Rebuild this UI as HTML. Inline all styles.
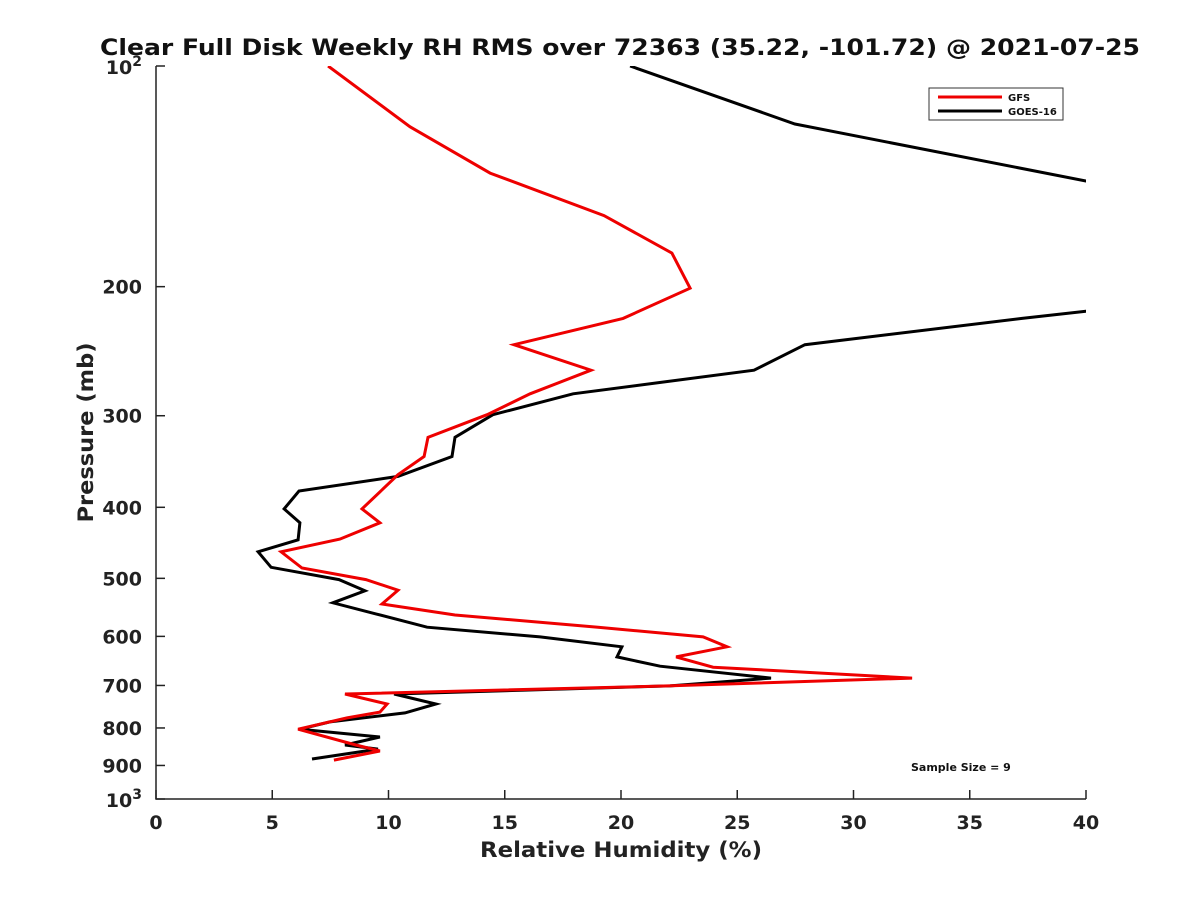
<!DOCTYPE html>
<html><head><meta charset="utf-8"><style>
body{margin:0;background:#fff;}
svg{display:block;font-family:"DejaVu Sans","Liberation Sans",sans-serif;font-weight:bold;}
</style></head><body>
<svg id="c" width="1200" height="900"></svg>
<script>
const xTicks=[0,5,10,15,20,25,30,35,40];
const yTicks=[200,300,400,500,600,700,800,900];
const gfsP=[100,121,140,160,180,201,221,240,260,280,299,321,341,361,402,420,442,460,484,502,519,542,561,583,601,620,640,661,684,701,719,742,761,775,803,844,860,885];
const gfsV=[7.40,10.92,14.37,19.27,22.19,22.97,20.09,15.40,18.71,16.09,14.24,11.70,11.53,10.41,8.86,9.63,7.91,5.38,6.28,9.03,10.41,9.72,12.86,19.01,23.53,24.56,22.37,23.96,32.52,22.02,8.13,9.94,9.63,8.22,6.11,8.6,9.63,7.65];
const goesP=[100,120,143.5,180,216,221,240,260,280,299,321,341,363,380,402,420,443,460,483,502,520,540,559,583,601,620,640,659,684,701,719,742,763,785,803,823,844,855,882];
const goesV=[20.39,27.48,40,60,40,37.25,27.91,25.72,17.94,14.49,12.86,12.73,10.41,6.15,5.51,6.19,6.11,4.39,4.95,7.87,8.99,7.61,9.46,11.66,16.52,20.04,19.83,21.68,26.45,22.11,10.24,12.04,10.71,7.48,6.19,9.63,8.13,9.55,6.71];
const L=156,R=1086,T=66,B=799;
const X=v=>L+(v/40)*(R-L);
const Y=p=>T+Math.log10(p/100)*(B-T);
const NS="http://www.w3.org/2000/svg";
const svg=document.getElementById('c');
function mk(t,a,txt){const e=document.createElementNS(NS,t);for(const k in a)e.setAttribute(k,a[k]);if(txt!==undefined)e.textContent=txt;svg.appendChild(e);return e;}
const defs=mk('defs',{});
const cp=document.createElementNS(NS,'clipPath');cp.setAttribute('id','clip');
const cr=document.createElementNS(NS,'rect');cr.setAttribute('x',L);cr.setAttribute('y',T);cr.setAttribute('width',R-L);cr.setAttribute('height',B-T);
cp.appendChild(cr);defs.appendChild(cp);
let t=mk('text',{x:100,y:55,'font-size':22,fill:'#111',textLength:1040,lengthAdjust:'spacingAndGlyphs'},'Clear Full Disk Weekly RH RMS over 72363 (35.22, -101.72) @ 2021-07-25');


let a=mk('path',{d:`M${L},${T}V${B}H${R}`,stroke:'#222',fill:'none','stroke-width':1.5});


xTicks.forEach(v=>{
  let tk=mk('line',{x1:X(v),x2:X(v),y1:B,y2:B-9,stroke:'#222','stroke-width':1.5});
  
  
  let l=mk('text',{x:X(v),y:B+30,'text-anchor':'middle','font-size':19,fill:'#222'},String(v));
  
  
});
yTicks.concat([100,1000]).forEach(p=>{
  let tk=mk('line',{x1:L,x2:L+9,y1:Y(p),y2:Y(p),stroke:'#222','stroke-width':1.5});
  
  
});
yTicks.forEach(p=>{
  let l=mk('text',{x:L-14,y:Y(p)+7,'text-anchor':'end','font-size':19,fill:'#222'},String(p));
  
  
});
[[100,'2'],[1000,'3']].forEach(([p,e])=>{
  let l=mk('text',{x:L-14,y:Y(p)+8,'text-anchor':'end','font-size':19,fill:'#222'});
  l.innerHTML=`10<tspan dy="-8" font-size="14">${e}</tspan>`;
  
  
});
t=mk('text',{x:480,y:857,'font-size':21,fill:'#222',textLength:282,lengthAdjust:'spacingAndGlyphs'},'Relative Humidity (%)');


t=mk('text',{x:0,y:0,'text-anchor':'middle','font-size':21,fill:'#222',textLength:180,lengthAdjust:'spacingAndGlyphs',transform:`translate(93,${(T+B)/2}) rotate(-90)`},'Pressure (mb)');


function line(P,V,col,name){
  const d=P.map((p,i)=>(i?'L':'M')+X(V[i]).toFixed(1)+','+Y(p).toFixed(1)).join('');
  const e=mk('path',{d,stroke:col,fill:'none','stroke-width':3,'stroke-linejoin':'miter','clip-path':'url(#clip)'});
  
  
}
line(goesP,goesV,'#000','goes16-line');
line(gfsP,gfsV,'#e00','gfs-line');
let lg=mk('rect',{x:929,y:88,width:134,height:32,fill:'#fff',stroke:'#333','stroke-width':1});


[['GFS','#e00',97],['GOES-16','#000',111]].forEach(([n,c,y])=>{
  let l=mk('line',{x1:938,x2:1002,y1:y,y2:y,stroke:c,'stroke-width':3});
  
  
  let tx=mk('text',{x:1008,y:y+4,'font-size':10,fill:'#111'},n);
  
  
});
t=mk('text',{x:911,y:771,'font-size':11,fill:'#111'},'Sample Size = 9');


</script>
</body></html>
